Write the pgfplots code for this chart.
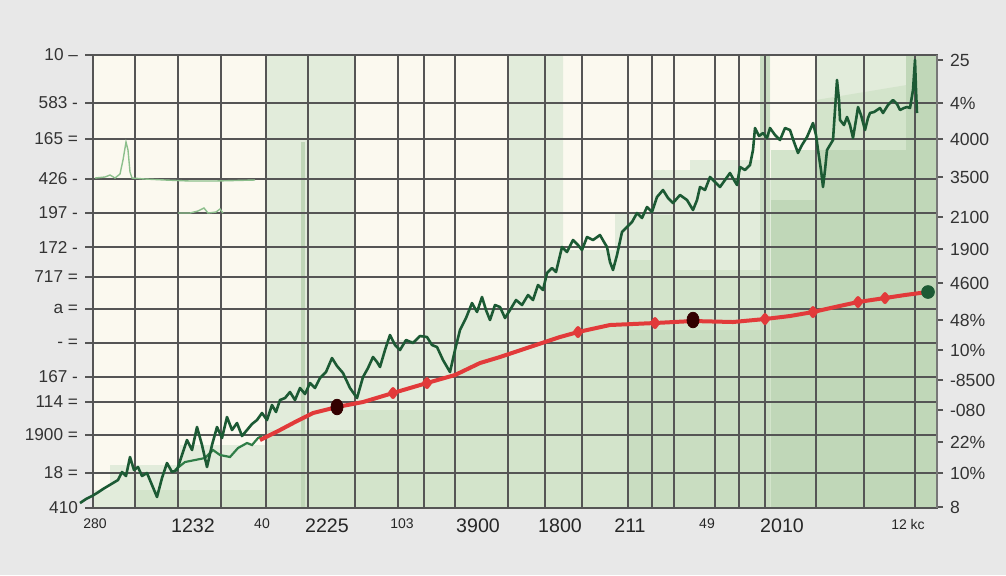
\documentclass[border=0pt]{standalone}
\usepackage{fontspec}
\setmainfont{Liberation Sans}
\usepackage{pgfplots}
\pgfplotsset{compat=1.18}
\definecolor{outbg}{HTML}{E8E8E8}
\definecolor{cream}{HTML}{FBF9EF}
\definecolor{gA}{HTML}{E2ECDB}
\definecolor{gB}{HTML}{D3E4CB}
\definecolor{gC}{HTML}{C0D7B8}
\definecolor{gD}{HTML}{C9DDC1}
\definecolor{gridc}{HTML}{555555}
\definecolor{dgreen}{HTML}{1C5A34}
\definecolor{mgreen}{HTML}{2F7D47}
\definecolor{fgreen}{HTML}{8CBF8C}
\definecolor{redl}{HTML}{E23A3A}
\pgfplotsset{pxaxis/.style={
  at={(46.5pt,-254pt)}, anchor=south west,
  scale only axis, width=422pt, height=226.5pt,
  xmin=93, xmax=937, ymin=55, ymax=508, y dir=reverse}}
\begin{document}
\begin{tikzpicture}
\fill[outbg] (0,0) rectangle (503pt,-287.5pt);
% shaded background panels
\begin{axis}[pxaxis, hide axis]
\addplot[fill=cream, draw=none] coordinates {(93,55)(937,55)(937,508)(93,508)} --cycle;
\addplot[fill=gA, draw=none] coordinates {
(93,508)(93,490)(110,490)(110,465)(180,465)(180,445)(265,445)(265,55)(355,55)(355,340)(424,340)(424,310)(508,310)(508,55)(563,55)(563,250)(615,250)(615,213)(652,213)(652,170)(690,170)(690,160)(760,160)(760,55)(770,55)(770,180)(816,180)(816,55)(937,55)(937,508)} --cycle;
\addplot[fill=gB, draw=none] coordinates {
(135,508)(135,490)(265,490)(265,430)(355,430)(355,410)(455,410)(455,350)(508,350)(508,400)(545,400)(545,300)(628,300)(628,260)(652,260)(652,215)(673,215)(673,270)(765,270)(765,330)(771,330)(771,150)(816,150)(816,100)(937,80)(937,508)} --cycle;
\addplot[fill=gD, draw=none] coordinates {(628,508)(628,330)(765,330)(765,508)} --cycle;
\addplot[fill=gC, draw=none] coordinates {(771,508)(771,200)(816,200)(816,150)(906,150)(906,55)(937,55)(937,508)} --cycle;
\addplot[fill=gD, draw=none] coordinates {(760,508)(760,55)(770,55)(770,508)} --cycle;
\addplot[draw=gC, line width=1.6pt] coordinates {(303,142)(303,508)};
\end{axis}
% grid, labels and series
\begin{axis}[pxaxis,
  axis line style={draw=gridc, line width=0.8pt},
  tick pos=left, tick align=outside,
  major tick length=4pt, minor tick length=0pt,
  xtick style={draw=none},
  ytick style={draw=gridc, line width=0.6pt},
  xtick={95,193,262,327,402,478,560,630,707,782,908},
  xticklabels={{\fontsize{7}{8}\selectfont 280},1232,{\fontsize{7}{8}\selectfont 40},2225,{\fontsize{7}{8}\selectfont 103},3900,1800,211,{\fontsize{7}{8}\selectfont 49},2010,{\fontsize{7}{8}\selectfont 12 kc}},
  xticklabel style={font=\fontsize{9.8}{11}\selectfont, text=black!85, yshift=2pt},
  minor xtick={135,178,221,266,308,355,398,424,455,508,545,582,628,652,674,715,739,765,816,864,915},
  xminorgrids,
  minor grid style={draw=gridc, line width=0.55pt},
  ytick={55,103,139,179,213,247,277,309,343,377,402,435,473,508},
  yticklabels={10 --,583 -,165 =,426 -,197 -,172 -,717 =,a =,- =,167 -,114 =,1900 =,18 =,410},
  yticklabel style={font=\fontsize{8.6}{10}\selectfont, text=black!80},
  ymajorgrids,
  major grid style={draw=gridc, line width=0.55pt},
  clip=false,
]
% faint green lines
\addplot[fgreen, line width=0.7pt] coordinates {(95,178)(105,177)(110,175)(115,178)(120,174)(123,160)(126,142)(128,150)(130,172)(132,178)(145,179)(165,180)(190,181)(215,181)(255,180)};
\addplot[fgreen, line width=0.7pt] coordinates {(178,213)(190,213)(198,211)(204,208)(208,213)(216,212)(220,209)(223,213)};
% second strand
\addplot[mgreen, line width=1.1pt] coordinates {(175,470)(185,462)(195,460)(205,458)(213,450)(220,455)(230,457)(238,448)(247,443)(252,445)(258,438)(262,436)};
% main dark green line
\addplot[dgreen, line width=1.3pt, line join=round] coordinates {
(80,503)(86,499)(92,496)(97,493)(103,489)(108,486)(113,483)(118,480)(122,472)(126,476)(130,457)(134,470)(138,467)(142,476)(147,473)(152,485)(157,497)(162,478)(167,463)(172,472)(177,470)(182,455)(187,440)(192,450)(197,427)(202,445)(207,467)(212,445)(217,427)(222,438)(227,417)(232,430)(237,423)(242,436)(247,430)(252,424)(257,420)(262,413)(267,420)(272,405)(276,412)(280,400)(285,398)(290,392)(295,400)(300,388)(305,394)(310,383)(315,388)(320,378)(326,372)(332,358)(337,366)(343,373)(350,388)(357,398)(363,377)(368,368)(373,357)(377,362)(380,367)(385,350)(390,335)(395,345)(400,350)(406,340)(413,343)(420,336)(427,337)(432,345)(437,347)(443,360)(450,372)(455,350)(460,330)(466,318)(472,303)(477,312)(482,297)(486,310)(490,320)(495,305)(500,307)(505,318)(510,310)(516,300)(522,305)(528,295)(533,300)(538,285)(543,290)(547,273)(552,268)(556,272)(562,247)(567,252)(573,240)(578,245)(582,250)(587,237)(593,240)(600,235)(604,242)(607,247)(610,262)(613,270)(617,255)(622,232)(627,227)(632,222)(637,213)(642,218)(647,207)(652,212)(657,197)(663,190)(668,198)(673,203)(680,195)(687,200)(693,210)(697,200)(700,187)(705,190)(710,177)(715,182)(720,187)(725,180)(730,173)(734,180)(737,185)(740,167)(745,170)(750,165)(753,150)(755,128)(759,136)(763,133)(767,138)(770,128)(775,135)(780,140)(785,128)(790,130)(794,142)(798,153)(802,145)(807,137)(810,130)(813,123)(816,135)(818,150)(821,170)(823,187)(825,170)(827,150)(830,145)(833,140)(835,110)(837,80)(839,100)(840,120)(844,125)(847,117)(850,125)(853,138)(856,120)(858,107)(861,115)(865,130)(868,118)(870,113)(874,112)(877,110)(880,108)(883,113)(888,105)(893,100)(897,104)(900,110)(904,108)(907,107)(910,108)(913,90)(915,60)(916,90)(917,113)};
% red line
\addplot[redl, line width=2pt, line join=round, mark=diamond*, mark size=2pt, mark options={fill=redl, draw=redl},
  mark indices={7,8,14,16,19,21,23,24}] coordinates {
(260,440)(280,430)(297,421)(313,413)(337,407)(363,402)(393,393)(427,383)(455,375)(480,363)(500,357)(530,347)(560,337)(578,332)(610,325)(655,323)(693,321)(733,322)(765,319)(790,316)(813,312)(835,307)(858,302)(885,298)(905,295)(920,293)(928,292)};
% dark markers
\addplot[only marks, mark=*, mark size=3pt, mark options={fill=black!80!red, draw=black!80!red, yscale=1.3}] coordinates {(337,407)(693,320)};
\addplot[only marks, mark=*, mark size=3.2pt, mark options={fill=dgreen, draw=dgreen}] coordinates {(928,292)};
\end{axis}
% right-hand labels
\begin{axis}[pxaxis,
  hide x axis, axis y line*=right,
  axis line style={draw=gridc!80, line width=0.8pt},
  tick align=outside, major tick length=3pt,
  ytick style={draw=gridc, line width=0.6pt},
  ytick={60,103,139,177,217,249,283,320,350,380,410,442,473,507},
  yticklabels={25,4\%,4000,3500,2100,1900,4600,48\%,10\%,-8500,-080,22\%,10\%,8},
  yticklabel style={font=\fontsize{8.8}{10}\selectfont, text=black!80},
]
\addplot[draw=none] coordinates {(93,55)(937,508)};
\end{axis}
\end{tikzpicture}
\end{document}
